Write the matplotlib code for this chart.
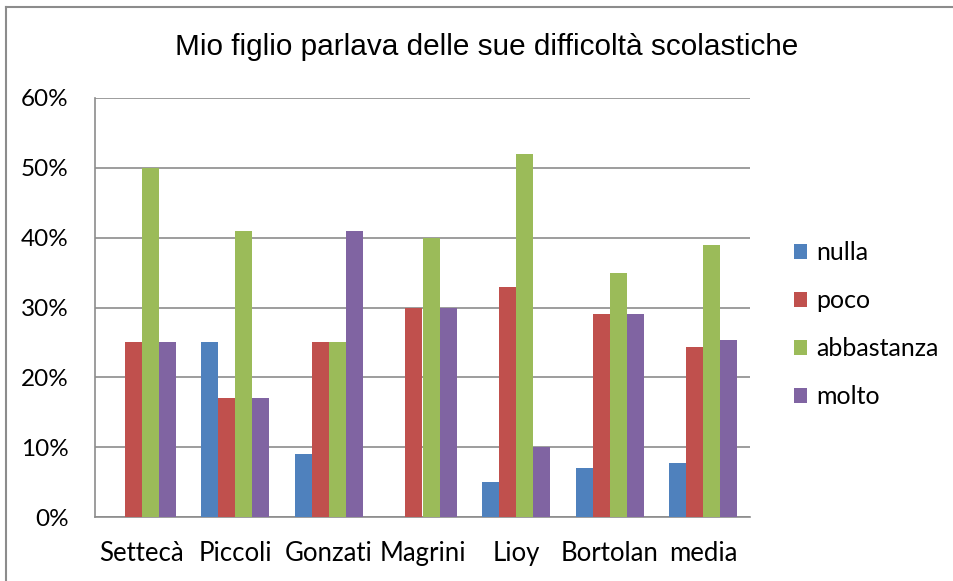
import matplotlib
matplotlib.use("Agg")
import matplotlib.pyplot as plt
import numpy as np
from matplotlib.lines import Line2D

categories = ["Settecà", "Piccoli", "Gonzati", "Magrini", "Lioy", "Bortolan", "media"]
series_names = ["nulla", "poco", "abbastanza", "molto"]
nulla = [0, 25, 9, 0, 5, 7, 7.7]
poco = [25, 17, 25, 30, 33, 29, 24.3]
abbastanza = [50, 41, 25, 40, 52, 35, 39]
molto = [25, 17, 41, 30, 10, 29, 25.4]
yticks = [0, 10, 20, 30, 40, 50, 60]
ytick_labels = ["0%", "10%", "20%", "30%", "40%", "50%", "60%"]
title = "Mio figlio parlava delle sue difficoltà scolastiche"

colors = ["#4F81BD", "#C0504D", "#9BBB59", "#8064A2"]
data = [nulla, poco, abbastanza, molto]

W, H = 954, 581
fig = plt.figure(figsize=(W/100, H/100), dpi=100)
ax = fig.add_axes([95/W, 64/H, 655/W, 419/H])

x = np.arange(len(categories))
w = 0.182
for i, (vals, c, name) in enumerate(zip(data, colors, series_names)):
    ax.bar(x + (i - 1.5) * w, vals, width=w, color=c, label=name, zorder=3)

ax.set_xlim(-0.5, len(categories) - 0.5)
ax.set_ylim(0, 60)
ax.set_yticks(yticks)
ax.set_yticklabels(ytick_labels, family="Lato", fontsize=17.5)
ax.set_xticks(x)
ax.set_xticklabels(categories, family="Lato", fontsize=18.5)
ax.tick_params(axis="y", length=0, pad=19)
ax.tick_params(axis="x", length=0, pad=17)
ax.grid(axis="y", color="#8C8C8C", linewidth=1.2, zorder=0)
for s in ["top", "right"]:
    ax.spines[s].set_visible(False)
ax.spines["left"].set_color("#8C8C8C")
ax.spines["bottom"].set_color("#8C8C8C")
ax.spines["left"].set_linewidth(1.2)
ax.spines["bottom"].set_linewidth(1.2)

fig.text(487/W, 1 - 47/H, title, ha="center", va="center",
         family="Liberation Sans", fontsize=21.4)

leg = ax.legend(loc="center left", bbox_to_anchor=(1.033, 0.459), frameon=False,
                prop={"family": "Lato", "size": 18}, handlelength=0.52,
                handleheight=0.52, labelspacing=1.0, handletextpad=0.36,
                borderpad=0.4)

fig.add_artist(Line2D([6/W, 6/W], [0, 1 - 7/H], transform=fig.transFigure,
                      color="#8C8C8C", linewidth=1.5))
fig.add_artist(Line2D([6/W, 1], [1 - 7/H, 1 - 7/H], transform=fig.transFigure,
                      color="#8C8C8C", linewidth=1.5))

fig.savefig("out.png", dpi=100)
